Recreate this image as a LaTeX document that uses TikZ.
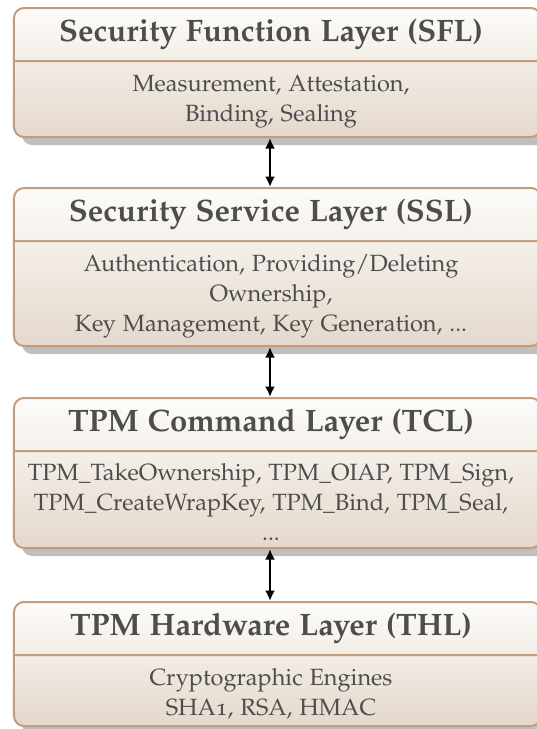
\documentclass[tikz,border=0pt]{standalone}
\usepackage[T1]{fontenc}
\usepackage[osf]{mathpazo}
\usetikzlibrary{arrows.meta,shapes.multipart,shadows}
\definecolor{boxtop}{HTML}{FDFCFA}
\definecolor{boxbot}{HTML}{E4D8CB}
\definecolor{boxline}{HTML}{C49C7C}
\definecolor{inktext}{HTML}{4D4D4D}
\newcommand\headtext[1]{\parbox[c][20.4pt][c]{205.6pt}{\centering\fontsize{12.4}{14}\selectfont\bfseries #1}\hspace*{5.2pt}}
\newcommand\bodytext[2]{\parbox[c][#1][c]{205.6pt}{\vspace*{2.4pt}\centering\fontsize{9.4}{12}\selectfont #2}\hspace*{5.2pt}}
\tikzset{
 layer/.style={rectangle split,rectangle split parts=2,draw=boxline,line width=0.8pt,
  rounded corners=4pt,inner sep=0pt,top color=boxtop,bottom color=boxbot,text=inktext,
  drop shadow={shadow xshift=3.2pt,shadow yshift=-3.2pt,fill=black!25,opacity=1},anchor=north},
 link/.style={{Latex[length=4.2pt,width=4pt]}-{Latex[length=4.2pt,width=4pt]},line width=1pt}
}

\begin{document}
\begin{tikzpicture}[x=0.4pt,y=-0.4pt]
\useasboundingbox (0,0) rectangle (536,729);
\node[layer] (sfl) at (277.5,7) {\headtext{Security Function Layer (SFL)}
 \nodepart{two}\bodytext{29.6pt}{Measurement, Attestation,\\ Binding, Sealing}};
\node[layer] (ssl) at (277.5,187) {\headtext{Security Service Layer (SSL)}
 \nodepart{two}\bodytext{41.2pt}{Authentication, Providing/Deleting\\ Ownership,\\ Key Management, Key Generation, ...}};
\node[layer] (tcl) at (277.5,397) {\headtext{TPM Command Layer (TCL)}
 \nodepart{two}\bodytext{38pt}{TPM\_TakeOwnership, TPM\_OIAP, TPM\_Sign,\\ TPM\_CreateWrapKey, TPM\_Bind, TPM\_Seal,\\ ...}};
\node[layer] (thl) at (277.5,601) {\headtext{TPM Hardware Layer (THL)}
 \nodepart{two}\bodytext{27.6pt}{Cryptographic Engines\\ SHA1, RSA, HMAC}};
\draw[link] ([xshift=-3pt]sfl.south) -- ([xshift=-3pt]ssl.north);
\draw[link] ([xshift=-3pt]ssl.south) -- ([xshift=-3pt]tcl.north);
\draw[link] ([xshift=-3pt]tcl.south) -- ([xshift=-3pt]thl.north);
\end{tikzpicture}
\end{document}
